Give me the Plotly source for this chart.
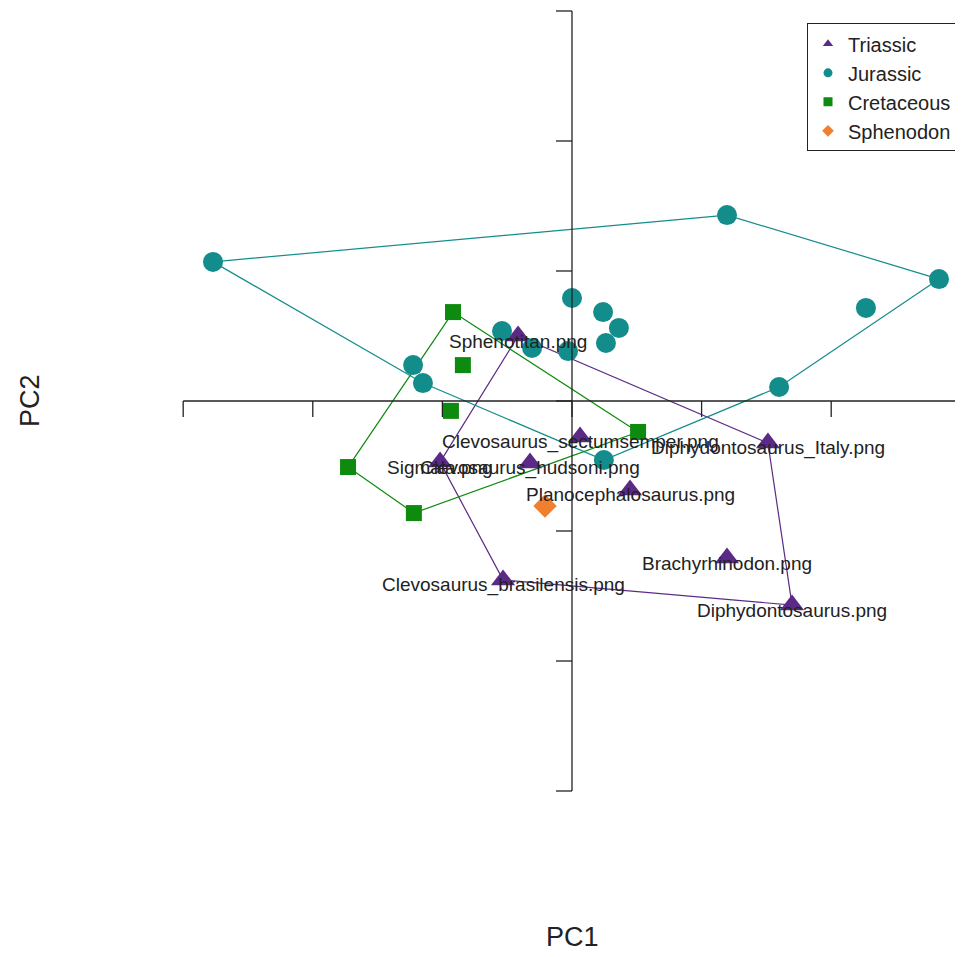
import numpy as np
import plotly.graph_objects as go

# ---- data (PC scores) ----
jur_x = [-0.1385, 0.0598, 0.1416, 0.1134, 0.0799, 0.0123, -0.0613, -0.0575,
         0.0000, 0.0120, 0.0181, 0.0131, -0.0270, -0.0154, -0.0015]
jur_y = [0.0535, 0.0715, 0.0469, 0.0358, 0.0054, -0.0227, 0.0138, 0.0069,
         0.0396, 0.0342, 0.0281, 0.0223, 0.0269, 0.0204, 0.0192]

cre_x = [-0.0459, -0.0421, -0.0467, 0.0255, -0.0864, -0.0610]
cre_y = [0.0342, 0.0138, -0.0038, -0.0119, -0.0254, -0.0431]

tri_names = ["Sphenotitan.png", "Clevosaurus_sectumsemper.png", "Clevosaurus_hudsoni.png",
             "Sigmala.png", "Planocephalosaurus.png", "Diphydontosaurus_Italy.png",
             "Brachyrhinodon.png", "Diphydontosaurus.png", "Clevosaurus_brasilensis.png"]
tri_x = [-0.0208, 0.0031, -0.0162, -0.0509, 0.0224, 0.0756, 0.0598, 0.0849, -0.0266]
tri_y = [0.0250, -0.0138, -0.0238, -0.0235, -0.0342, -0.0162, -0.0604, -0.0785, -0.0688]

sph_x = [-0.0104]
sph_y = [-0.0404]

tick_vals = [-0.15, -0.10, -0.05, 0.0, 0.05, 0.10, 0.15]

groups = ["Triassic", "Jurassic", "Cretaceous", "Sphenodon"]
colors = {"Triassic": "#5B2A86", "Jurassic": "#138C8C", "Cretaceous": "#0E8A0E", "Sphenodon": "#F07F2E"}
symbols = {"Triassic": "triangle-up", "Jurassic": "circle", "Cretaceous": "square", "Sphenodon": "diamond"}
sizes = {"Triassic": 21, "Jurassic": 20, "Cretaceous": 16, "Sphenodon": 18}

FONT = "Liberation Sans, Arial, sans-serif"


def hull(xs, ys):
    pts = sorted(set(zip(xs, ys)))
    if len(pts) < 3:
        return pts

    def cross(o, a, b):
        return (a[0] - o[0]) * (b[1] - o[1]) - (a[1] - o[1]) * (b[0] - o[0])
    lower, upper = [], []
    for p in pts:
        while len(lower) >= 2 and cross(lower[-2], lower[-1], p) <= 0:
            lower.pop()
        lower.append(p)
    for p in reversed(pts):
        while len(upper) >= 2 and cross(upper[-2], upper[-1], p) <= 0:
            upper.pop()
        upper.append(p)
    h = lower[:-1] + upper[:-1]
    return h + [h[0]]


fig = go.Figure()

data = {"Triassic": (tri_x, tri_y), "Jurassic": (jur_x, jur_y),
        "Cretaceous": (cre_x, cre_y), "Sphenodon": (sph_x, sph_y)}

# hulls
for g in ["Triassic", "Jurassic", "Cretaceous"]:
    h = hull(*data[g])
    fig.add_trace(go.Scatter(x=[p[0] for p in h], y=[p[1] for p in h], mode="lines",
                             line=dict(color=colors[g], width=1.2), showlegend=False,
                             hoverinfo="skip"))

# points
for g in ["Triassic", "Jurassic", "Cretaceous", "Sphenodon"]:
    xs, ys = data[g]
    fig.add_trace(go.Scatter(x=xs, y=ys, mode="markers", name=g, showlegend=False,
                             marker=dict(symbol=symbols[g], size=sizes[g], color=colors[g],
                                         line=dict(width=0))))

# legend entries
for g in groups:
    fig.add_trace(go.Scatter(x=[None], y=[None], mode="markers", name=g,
                             marker=dict(symbol=symbols[g], size=9, color=colors[g])))

# labels (drawn on top)
annotations = []
for nm, xv, yv in zip(tri_names, tri_x, tri_y):
    annotations.append(dict(text=nm, x=xv, y=yv, xref="x", yref="y", showarrow=False,
                            xanchor="center", yanchor="middle", yshift=-5,
                            font=dict(family=FONT, size=19, color="#222222")))

annotations += [
    dict(text="PC1", x=0.5857, y=0.0293, xref="paper", yref="paper", showarrow=False,
         xanchor="center", yanchor="middle",
         font=dict(family=FONT, size=27, color="#222222")),
    dict(text="PC2", x=0.0228, y=0.5904, xref="paper", yref="paper", showarrow=False,
         xanchor="center", yanchor="middle",
         textangle=-90, font=dict(family=FONT, size=27, color="#222222")),
]

# axes drawn at origin
shapes = []
lc = "#222222"
shapes.append(dict(type="line", xref="x", yref="y", x0=tick_vals[0], x1=tick_vals[-1], y0=0, y1=0,
                   line=dict(color=lc, width=1.3)))
shapes.append(dict(type="line", xref="x", yref="y", x0=0, x1=0, y0=tick_vals[0], y1=tick_vals[-1],
                   line=dict(color=lc, width=1.3)))
for t in tick_vals:
    shapes.append(dict(type="line", xref="x", yref="y", xanchor=t, xsizemode="pixel",
                       x0=0, x1=0, ysizemode="pixel", yanchor=0, y0=0, y1=-16,
                       line=dict(color=lc, width=1.3)))
    shapes.append(dict(type="line", xref="x", yref="y", xsizemode="pixel", xanchor=0,
                       x0=0, x1=-16, ysizemode="pixel", yanchor=t, y0=0, y1=0,
                       line=dict(color=lc, width=1.3)))

fig.update_layout(
    width=963, height=957,
    margin=dict(l=0, r=0, t=0, b=0),
    paper_bgcolor="white", plot_bgcolor="white",
    xaxis=dict(range=[-0.21759, 0.15394], visible=False, fixedrange=True),
    yaxis=dict(range=[-0.21692, 0.15115], visible=False, fixedrange=True),
    shapes=shapes,
    annotations=annotations,
    showlegend=True,
    legend=dict(x=0.8297, y=0.984, xanchor="left", yanchor="top",
                bgcolor="white", bordercolor="#222222", borderwidth=1,
                font=dict(family=FONT, size=20, color="#222222"),
                itemwidth=30, tracegroupgap=0),
)

fig.write_html("out.html")
